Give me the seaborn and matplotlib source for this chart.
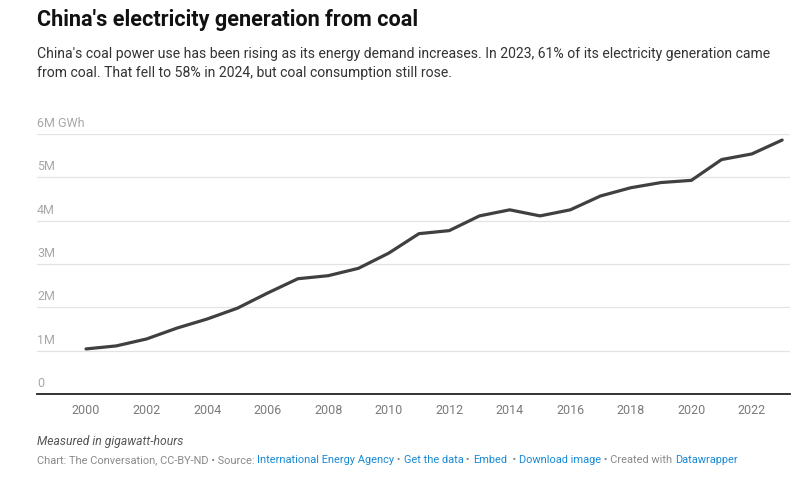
import matplotlib
matplotlib.use("Agg")
import matplotlib.pyplot as plt
import matplotlib.transforms as mtransforms
import seaborn as sns
import pandas as pd

years = list(range(2000, 2024))
generation_m_gwh = [1.04, 1.11, 1.27, 1.52, 1.73, 1.98, 2.33, 2.66, 2.73, 2.90,
                    3.25, 3.70, 3.77, 4.11, 4.25, 4.11, 4.25, 4.57, 4.76, 4.88,
                    4.93, 5.41, 5.54, 5.86]
y_ticks = [0, 1, 2, 3, 4, 5, 6]
y_labels = ["0", "1M", "2M", "3M", "4M", "5M", "6M GWh"]
x_ticks = list(range(2000, 2023, 2))

title = "China's electricity generation from coal"
subtitle = ("China's coal power use has been rising as its energy demand increases. In 2023, 61% of its electricity generation came\n"
            "from coal. That fell to 58% in 2024, but coal consumption still rose.")
note = "Measured in gigawatt-hours"
source_parts = [
    ("Chart: The Conversation, CC-BY-ND \u2022 Source: ", "#8a8a8a"),
    ("International Energy Agency", "#1a8ad4"),
    (" \u2022 ", "#8a8a8a"),
    ("Get the data", "#1a8ad4"),
    (" \u2022 ", "#8a8a8a"),
    ("Embed", "#1a8ad4"),
    ("  \u2022 ", "#8a8a8a"),
    ("Download image", "#1a8ad4"),
    (" \u2022 Created with ", "#8a8a8a"),
    ("Datawrapper", "#1a8ad4"),
]

df = pd.DataFrame({"year": years, "value": generation_m_gwh})

sns.set_theme(style="white")
plt.rcParams["font.family"] = ["Roboto", "DejaVu Sans"]

W, H = 797, 482
fig = plt.figure(figsize=(W / 100, H / 100), dpi=100)
ax_left, ax_right, ax_bottom, ax_top = 37, 790, 394, 134
ax = fig.add_axes([ax_left / W, 1 - ax_bottom / H, (ax_right - ax_left) / W, (ax_bottom - ax_top) / H])

sns.lineplot(data=df, x="year", y="value", ax=ax, color="#404040", linewidth=2.3)

ax.set_xlim(1998.38, 2023.26)
ax.set_ylim(0, 6)
ax.set_xlabel("")
ax.set_ylabel("")
ax.set_xticks(x_ticks)
ax.set_xticklabels([str(x) for x in x_ticks], color="#7a7a7a", fontsize=9)
ax.tick_params(axis="x", length=0, pad=7)
ax.set_yticks(y_ticks)
ax.set_yticklabels([])
ax.tick_params(axis="y", length=0)
for sp in ["left", "right", "top"]:
    ax.spines[sp].set_visible(False)
ax.spines["bottom"].set_color("#222222")
ax.spines["bottom"].set_linewidth(1.3)
ax.spines["bottom"].set_zorder(5)
ax.set_axisbelow(True)
ax.grid(axis="y", color="#e3e3e3", linewidth=0.9)
ax.grid(axis="x", visible=False)
ax.margins(y=0)
ax.set_clip_on(False)

trans = mtransforms.blended_transform_factory(ax.transAxes, ax.transData)
for v, lab in zip(y_ticks, y_labels):
    ax.text(0, v, lab, transform=trans + mtransforms.ScaledTranslation(0, 4 / 100, fig.dpi_scale_trans),
            ha="left", va="bottom", fontsize=9, color="#a8a8a8")

fig.text(37 / W, 1 - 20 / H, title, fontsize=15.6, fontweight="bold", color="#111111", ha="left", va="center")
fig.text(37 / W, 1 - 47 / H, subtitle, fontsize=10.1, color="#333333", ha="left", va="top", linespacing=1.5)
fig.text(37 / W, 1 - 441 / H, note, fontsize=8.7, style="italic", color="#555555", ha="left", va="center")

fig.canvas.draw()
renderer = fig.canvas.get_renderer()
x = 37
for txt, col in source_parts:
    t = fig.text(x / W, 1 - 460 / H, txt, fontsize=7.9, color=col, ha="left", va="center")
    bb = t.get_window_extent(renderer=renderer)
    x = bb.x1

fig.savefig("out.png", dpi=100, facecolor="white")
